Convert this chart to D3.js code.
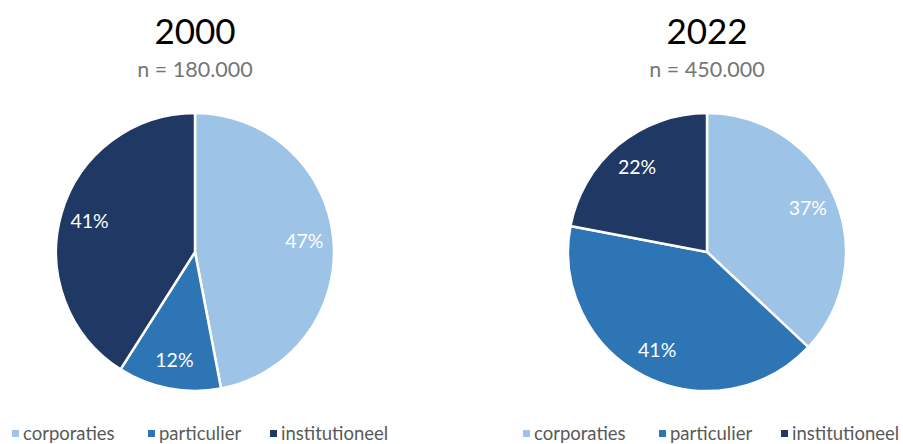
<!DOCTYPE html>
<html>
<head>
<meta charset="utf-8">
<script src="https://cdn.jsdelivr.net/npm/d3@7"></script>
<style>
  body { margin: 0; background: #fff; }
  text { font-family: Lato, "Open Sans", sans-serif; }
</style>
</head>
<body>
<svg width="903" height="444"></svg>
<script>
// categories and values per year
const categories = ["corporaties", "particulier", "institutioneel"];
const years = ["2000", "2022"];
const subtitles = ["n = 180.000", "n = 450.000"];
const values2000 = [47, 12, 41];
const values2022 = [37, 41, 22];
const colors = ["#9dc3e6", "#2e75b6", "#1f3864"];

svg = d3.select("svg");

panels = [
  {year: years[0], sub: subtitles[0], values: values2000, cx: 195, legendX: 12},
  {year: years[1], sub: subtitles[1], values: values2022, cx: 707, legendX: 523}
];

radius = 139;
cy = 252;

color = d3.scaleOrdinal().domain(categories).range(colors);

pie = d3.pie().sort(null).value(function(d) {return d.value;});
arc = d3.arc().innerRadius(0).outerRadius(radius);
labelArc = d3.arc().innerRadius(radius * 0.58).outerRadius(radius);

panels.forEach(function(p) {
  data = categories.map(function(c, i) {return {cat: c, value: p.values[i]};});

  // title + subtitle
  svg.append("text")
  .attr("x", p.cx)
  .attr("y", 44)
  .attr("text-anchor", "middle")
  .attr("font-size", 35)
  .attr("fill", "#000")
  .text(p.year);

  svg.append("text")
  .attr("x", p.cx)
  .attr("y", 77)
  .attr("text-anchor", "middle")
  .attr("font-size", 21.5)
  .attr("fill", "#767676")
  .text(p.sub);

  g = svg.append("g")
  .attr("transform", "translate(" + p.cx + "," + cy + ")");

  g.selectAll("path")
  .data(pie(data))
  .join("path")
  .attr("d", arc)
  .attr("fill", function(d) {return color(d.data.cat);})
  .attr("stroke", "#fff")
  .attr("stroke-width", 2.5)
  .attr("stroke-linejoin", "round");

  g.selectAll("text")
  .data(pie(data))
  .join("text")
  .attr("transform", function(d) {return "translate(" + labelArc.centroid(d) + ")";})
  .attr("text-anchor", "middle")
  .attr("dy", "0.35em")
  .attr("font-size", 19.5)
  .attr("fill", "#fff")
  .text(function(d) {return d.data.value + "%";});

  // legend along the bottom
  lg = svg.append("g")
  .attr("transform", "translate(" + p.legendX + ",434)");
  offsets = [0, 136, 258];
  categories.forEach(function(c, i) {
    item = lg.append("g").attr("transform", "translate(" + offsets[i] + ",0)");
    item.append("rect")
    .attr("x", 0).attr("y", -4)
    .attr("width", 7).attr("height", 7)
    .attr("fill", color(c));
    item.append("text")
    .attr("x", 11)
    .attr("y", 0)
    .attr("dy", "0.35em")
    .attr("font-size", 18.5)
    .attr("fill", "#595959")
    .text(c);
  });
});
</script>
</body>
</html>
